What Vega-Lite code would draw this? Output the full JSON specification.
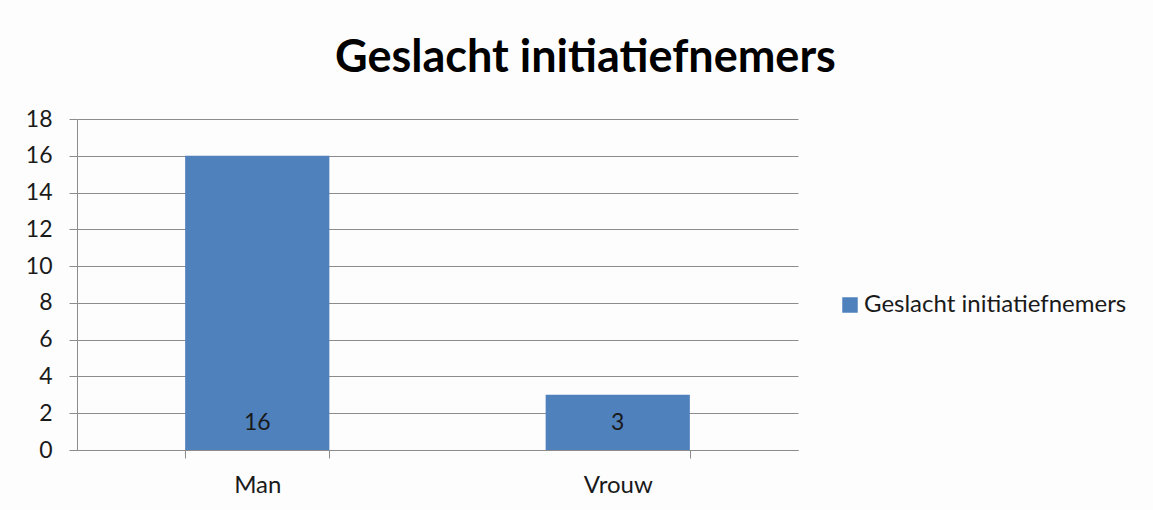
{
  "$schema": "https://vega.github.io/schema/vega-lite/v6.json",
  "autosize": {"type": "none"},
  "width": 721,
  "height": 331,
  "padding": {"left": 77, "top": 119, "right": 355, "bottom": 60},
  "background": "#fdfdfd",
  "config": {"view": {"stroke": null}, "font": "Lato"},
  "title": {
    "text": "Geslacht initiatiefnemers",
    "font": "Lato",
    "fontSize": 45,
    "fontWeight": "bold",
    "color": "#000000",
    "anchor": "middle",
    "baseline": "alphabetic",
    "offset": -9,
    "dx": 148
  },
  "data": {"values": [
    {"geslacht": "Man", "aantal": 16, "serie": "Geslacht initiatiefnemers"},
    {"geslacht": "Vrouw", "aantal": 3, "serie": "Geslacht initiatiefnemers"}
  ]},
  "layer": [
    {
      "mark": {"type": "bar"},
      "encoding": {
        "x": {
          "field": "geslacht", "type": "nominal",
          "scale": {"paddingInner": 0.6, "paddingOuter": 0.3},
          "axis": {
            "title": null, "labelAngle": 0, "tickBand": "extent",
            "domainColor": "#8c8c8c", "tickColor": "#8c8c8c", "tickSize": 8,
            "labelFont": "Lato", "labelFontSize": 24, "labelColor": "#1a1a1a",
            "labelPadding": 15, "grid": false
          }
        },
        "y": {
          "field": "aantal", "type": "quantitative",
          "scale": {"domain": [0, 18], "nice": false},
          "axis": {
            "title": null, "values": [0, 2, 4, 6, 8, 10, 12, 14, 16, 18],
            "tickCount": 10, "labelOverlap": false,
            "domainColor": "#8c8c8c", "tickColor": "#8c8c8c", "tickSize": 8,
            "gridColor": "#8c8c8c", "grid": true,
            "labelFont": "Lato", "labelFontSize": 23, "labelColor": "#1a1a1a",
            "labelPadding": 17
          }
        },
        "color": {
          "field": "serie", "type": "nominal",
          "scale": {"range": ["#4f81bd"]},
          "legend": {
            "title": null, "orient": "none", "legendX": 761, "legendY": 174,
            "symbolType": "square", "symbolSize": 240, "symbolStrokeWidth": 0,
            "labelFont": "Lato", "labelFontSize": 24, "labelColor": "#1a1a1a",
            "labelLimit": 0,
            "padding": 0, "labelOffset": 2
          }
        }
      }
    },
    {
      "mark": {"type": "text", "dy": -27, "baseline": "middle", "align": "center", "fontSize": 23, "color": "#1a1a1a", "font": "Lato"},
      "encoding": {
        "x": {"field": "geslacht", "type": "nominal"},
        "y": {"datum": 0},
        "text": {"field": "aantal", "type": "quantitative"}
      }
    }
  ]
}
